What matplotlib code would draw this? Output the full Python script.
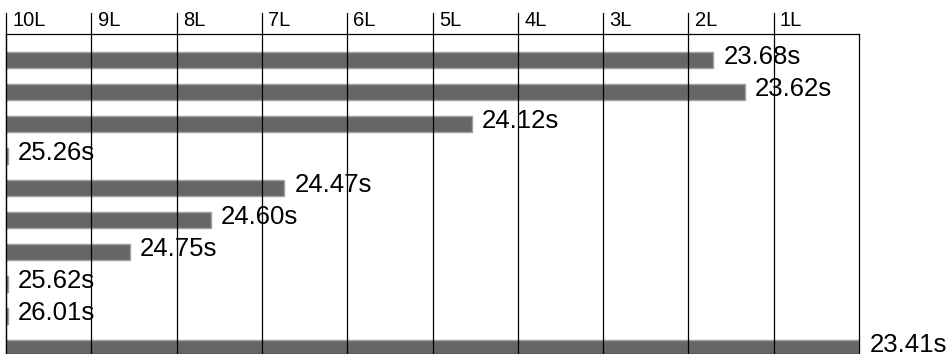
import matplotlib
matplotlib.use('Agg')
import matplotlib.pyplot as plt
import matplotlib.transforms as mtransforms

plt.rcParams['font.family'] = ['Liberation Sans', 'DejaVu Sans']

# laps done (0 = 10 laps down, 10 = finished)
laps = [8.29, 8.66, 5.46, 0.02, 3.26, 2.40, 1.45, 0.02, 0.02, 10.0]
times = ['23.68s', '23.62s', '24.12s', '25.26s', '24.47s',
         '24.60s', '24.75s', '25.62s', '26.01s', '23.41s']
lap_labels = ['10L', '9L', '8L', '7L', '6L', '5L', '4L', '3L', '2L', '1L']

W, H = 950, 354
fig = plt.figure(figsize=(W / 100, H / 100), dpi=100)
left, right, top, bottom = 6, 859, 34, 354
ax = fig.add_axes([left / W, 1 - bottom / H, (right - left) / W, (bottom - top) / H])

rows = list(range(len(laps)))
ax.barh(rows, laps, height=0.5, color='#666666', edgecolor='#a0a0a0',
        linewidth=1, zorder=2)

for r, v, t in zip(rows, laps, times):
    ax.annotate(t, xy=(v, r), xytext=(7.5, 1.8), textcoords='offset points',
                ha='left', va='center', fontsize=18.5, color='black',
                annotation_clip=False, zorder=3)

ax.set_xlim(0, 10)
ax.set_ylim(9.19, -0.8125)

# lap lines run through the plot and up past the top edge
trans = mtransforms.blended_transform_factory(ax.transData, ax.transAxes)
up = (top - 13) / (bottom - top)
for i, lab in enumerate(lap_labels):
    ax.plot([i, i], [0, 1 + up], transform=trans, color='black', lw=0.9,
            clip_on=False, zorder=4)
    ax.annotate(lab, xy=(i, 1), xycoords=trans, xytext=(4.5, 3),
                textcoords='offset points', ha='left', va='bottom',
                fontsize=14.5)

ax.set_xticks([])
ax.set_yticks([])
for s in ax.spines.values():
    s.set_linewidth(0.9)
    s.set_zorder(5)

fig.savefig('out.png', dpi=100)
